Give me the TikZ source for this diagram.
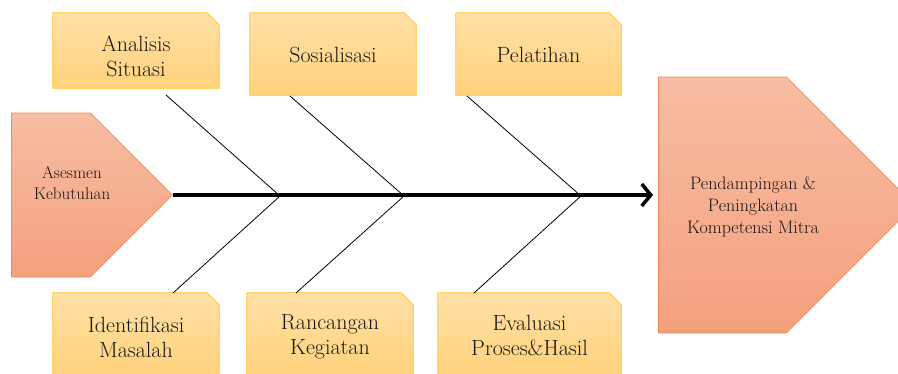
\documentclass[tikz,border=0pt]{standalone}
\usepackage{tikz}
\usetikzlibrary{arrows.meta}
\usetikzlibrary{shapes.symbols}
\usetikzlibrary{backgrounds}

\definecolor{boxtop}{HTML}{FFE0A6}
\definecolor{boxbot}{HTML}{FFD27C}
\definecolor{boxline}{HTML}{FFC21A}
\definecolor{headtop}{HTML}{F7BDA3}
\definecolor{headbot}{HTML}{F4A07D}
\definecolor{headline}{HTML}{EF8A55}
\definecolor{txt}{HTML}{161616}

\begin{document}
\begin{tikzpicture}[x=1pt,y=-1pt,
        cause/.style={rectangle, minimum width=#1, minimum height=82pt, inner sep=0pt},
        cause/.default=166pt,
        causetext/.style={align=center, text=txt, font=\fontsize{22}{25.5}\selectfont},
        causebox/.style={draw=boxline, line width=0.8pt, top color=boxtop, bottom color=boxbot},
        head/.style={signal, signal to=east, signal pointer angle=90, anchor=west,
            draw=headline, line width=0.8pt, top color=headtop, bottom color=headbot,
            inner sep=0pt},
        headtext/.style={align=center, text=txt, font=\fontsize{17}{21.5}\selectfont},
        bone/.style={line width=0.8pt, black},
        spine/.style={line width=3.5pt, -{Straight Barb[length=9pt,width=22pt]}}]
    \useasboundingbox (0,0) rectangle (898,373);

    % head and tail
    \node[head, minimum width=161pt, minimum height=164pt] (asesmen) at (11,195) {};
    \node[headtext] (asesmenLbl) at (72,183) {Asesmen\\Kebutuhan};
    \node[head, minimum width=256pt, minimum height=256pt] (mitra) at (658,205) {};
    \node[headtext, font=\fontsize{18}{22}\selectfont] (mitraLbl) at (753,207)
        {Pendampingan \&\\Peningkatan\\Kompetensi Mitra};

    % causes
    \node[cause, minimum height=75pt, label={[causetext, yshift=-6pt]center:{Analisis\\Situasi}}]
        (analisis) at (136,50.5) {};
    \node[cause, label={[causetext, yshift=-1pt]center:Sosialisasi}] (sosialisasi) at (333,54) {};
    \node[cause=165pt, label={[causetext, yshift=-1pt]center:Pelatihan}] (pelatihan) at (538.5,54) {};
    \node[cause, label={[causetext, yshift=-3.5pt]center:{Identifikasi\\Masalah}}]
        (identifikasi) at (136,334) {};
    \node[cause, label={[causetext, yshift=-2.5pt]center:{Rancangan\\Kegiatan}}]
        (rancangan) at (330,334) {};
    \node[cause=183pt, label={[causetext, yshift=-1.5pt]center:{Evaluasi\\Proses\&Hasil}}]
        (evaluasi) at (529.5,334) {};

    \begin{scope}[on background layer]
        \foreach \c in {analisis,sosialisasi,pelatihan,identifikasi,rancangan,evaluasi}
            \draw[causebox] (\c.south west) |- ([xshift=-12pt]\c.north east)
                -- ([yshift=-12pt]\c.north east) |- cycle;
    \end{scope}

    % joints on the spine
    \coordinate (j1) at (280,196);
    \coordinate (j2) at (404,196);
    \coordinate (j3) at (581,196);
    \coordinate (a1) at (166,95);
    \coordinate (a2) at (290,96);
    \coordinate (a3) at (467,96);
    \coordinate (b1) at (173,293);
    \coordinate (b2) at (296,293);
    \coordinate (b3) at (474,293);

    \draw[bone] (a1) -- (j1) -- (b1);
    \draw[bone] (a2) -- (j2) -- (b2);
    \draw[bone] (a3) -- (j3) -- (b3);
    \draw[spine, shorten >=5pt] (asesmen.east) -- (asesmen.east -| mitra.west);
\end{tikzpicture}
\end{document}
